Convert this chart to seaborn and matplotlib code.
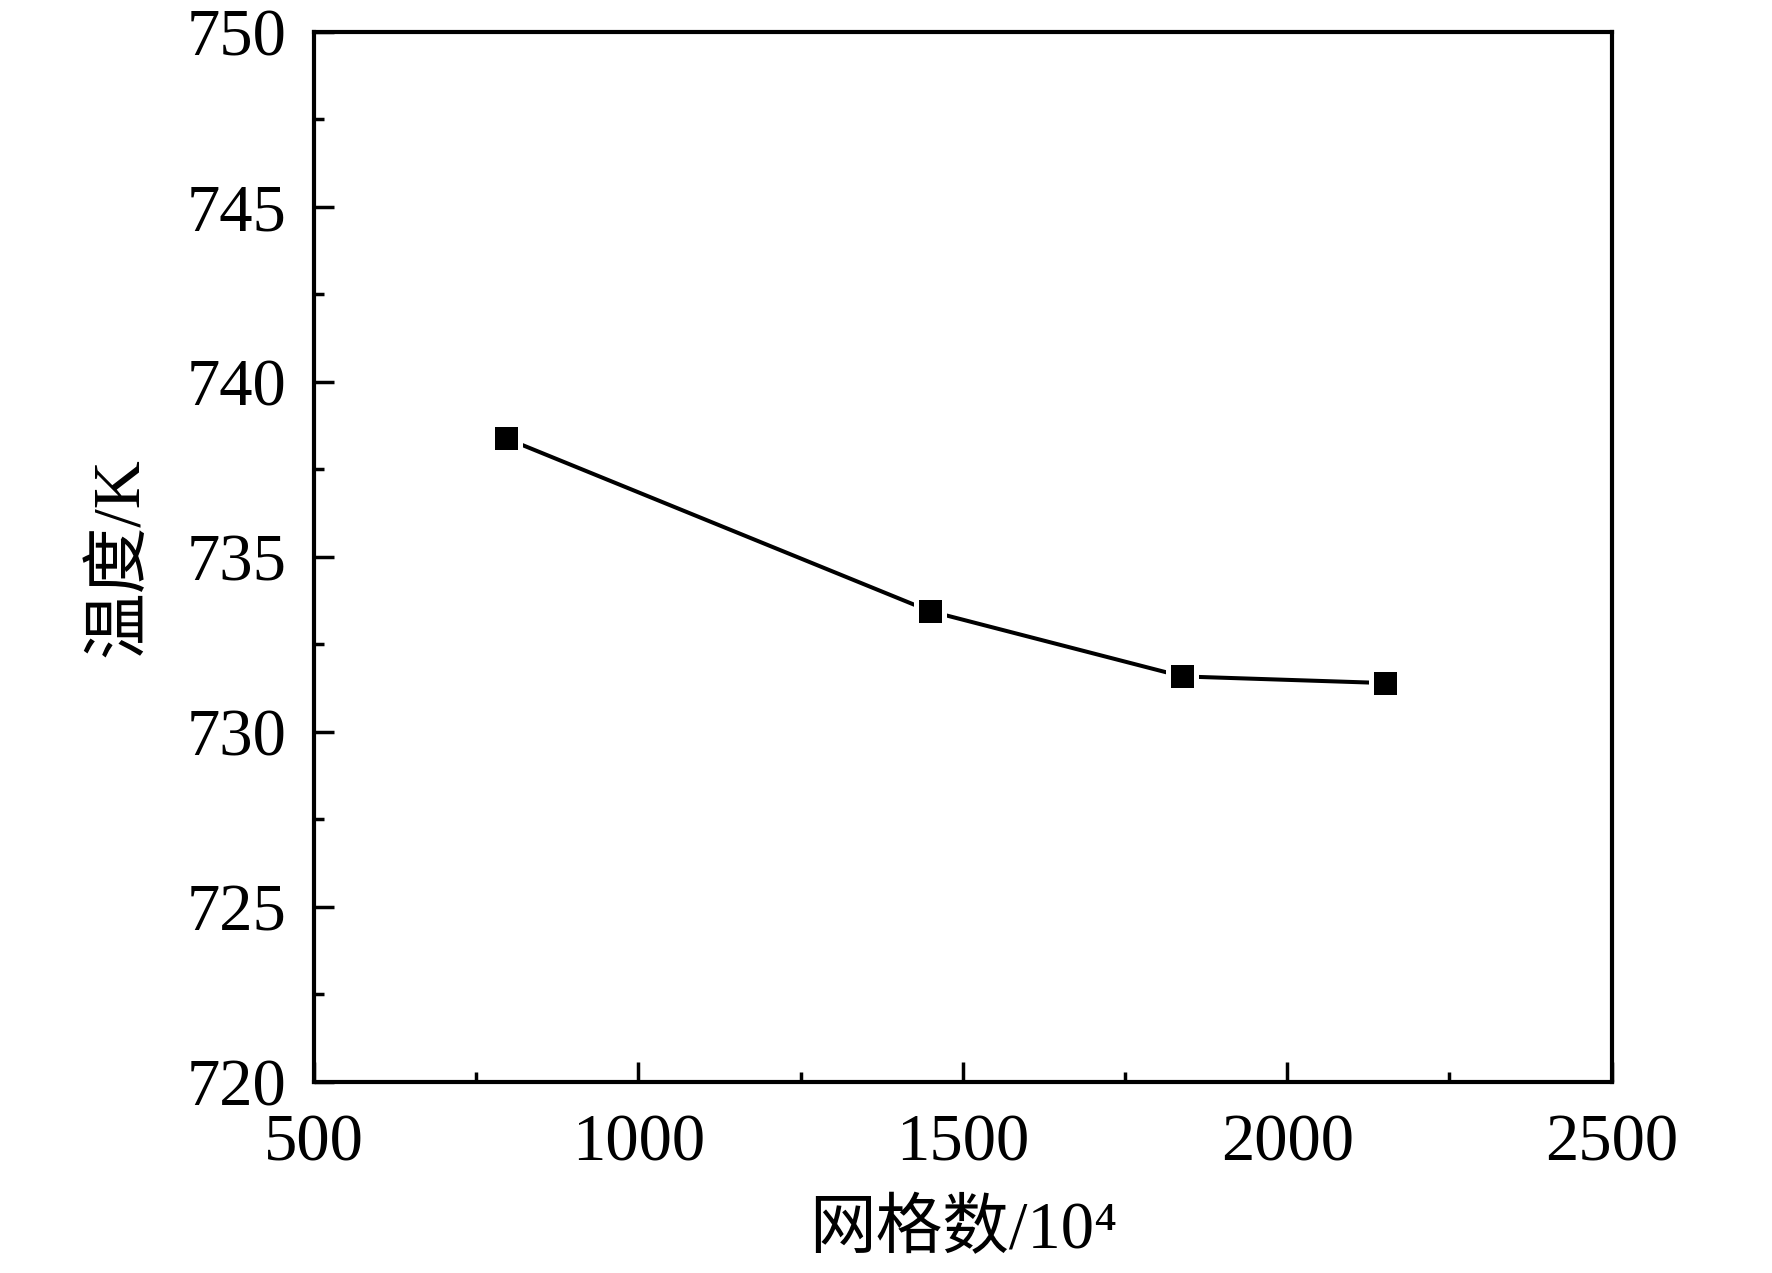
import matplotlib
matplotlib.use('Agg')
import matplotlib.pyplot as plt
from matplotlib.ticker import MultipleLocator
import pandas as pd
import seaborn as sns

# grid count (10^4) vs temperature (K)
grid_counts = [796, 1450, 1838, 2150]
temperatures = [738.38, 733.44, 731.58, 731.39]

x_label = '网格数/10⁴'
y_label = '温度/K'

sns.set_style('ticks')
plt.rcParams['font.family'] = ['Liberation Serif', 'Noto Sans CJK SC', 'DejaVu Sans']
plt.rcParams['text.color'] = 'black'
plt.rcParams['axes.labelcolor'] = 'black'
plt.rcParams['xtick.labelcolor'] = 'black'
plt.rcParams['ytick.labelcolor'] = 'black'

df = pd.DataFrame({'grid': grid_counts, 'temp': temperatures})

fig = plt.figure(figsize=(17.72, 12.73), dpi=100)
ax = fig.add_axes([314 / 1772, 1 - 1081.7 / 1273, (1611.7 - 314) / 1772, (1081.7 - 31.7) / 1273])

sns.lineplot(data=df, x='grid', y='temp', ax=ax, color='black', lw=2.9,
             marker='s', markersize=20.2, markerfacecolor='black',
             markeredgecolor='white', markeredgewidth=3.6, sort=False)

ax.set_xlim(500, 2500)
ax.set_ylim(720, 750)
ax.xaxis.set_major_locator(MultipleLocator(500))
ax.xaxis.set_minor_locator(MultipleLocator(250))
ax.yaxis.set_major_locator(MultipleLocator(5))
ax.yaxis.set_minor_locator(MultipleLocator(2.5))

for s in ax.spines.values():
    s.set_linewidth(3)
    s.set_color('black')

ax.tick_params(which='both', direction='in', width=2.5, color='black',
               labelcolor='black', top=False, right=False, labelsize=48)
ax.tick_params(which='major', length=14.5)
ax.tick_params(which='minor', length=7.5)
ax.tick_params(axis='y', which='major', pad=20)
ax.tick_params(axis='x', which='major', pad=23)

ax.set_xlabel(x_label, fontsize=48, color='black')
ax.set_ylabel(y_label, fontsize=48, color='black')
ax.xaxis.set_label_coords(0.5, -0.113)
ax.yaxis.set_label_coords(-0.125, 0.5)

fig.savefig('out.png', dpi=100, facecolor='white')
